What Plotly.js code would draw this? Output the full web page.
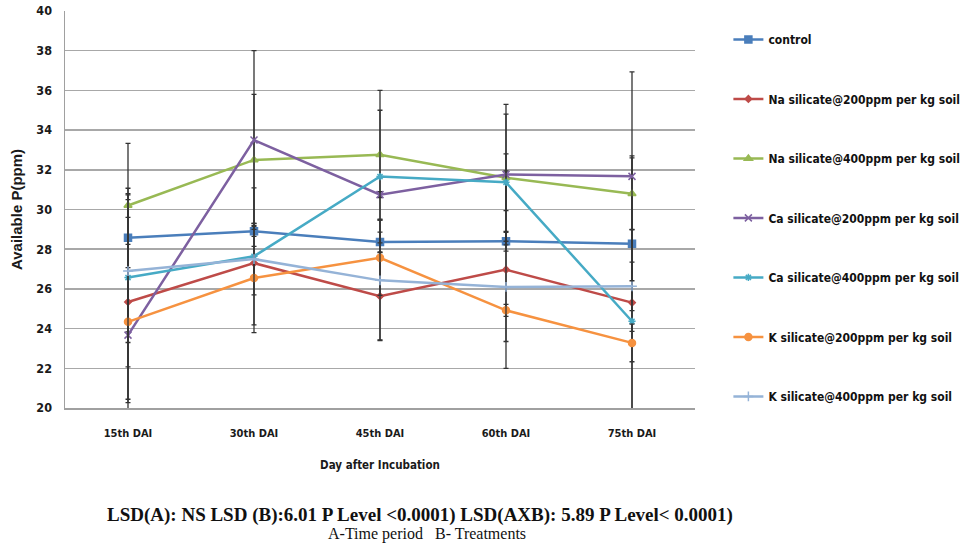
<!DOCTYPE html>
<html><head><meta charset="utf-8">
<script src="https://cdn.plot.ly/plotly-3.0.1.min.js"></script>
<style>html,body{margin:0;padding:0;background:#fff;}#chart{width:969px;height:545px;}</style>
</head><body><div id="chart"></div>
<script>
const categories = ['15th DAI','30th DAI','45th DAI','60th DAI','75th DAI'];
const seriesNames = ['control','Na silicate@200ppm per kg soil','Na silicate@400ppm per kg soil','Ca silicate@200ppm per kg soil','Ca silicate@400ppm per kg soil','K silicate@200ppm per kg soil','K silicate@400ppm per kg soil'];
const control     = [28.58, 28.90, 28.36, 28.40, 28.28];
const controlErr  = [4.75, 0.25, 0.50, 0.50, 4.42];
const naSil200    = [25.34, 27.30, 25.63, 26.97, 25.31];
const naSil200Err = [5.40, 0.84, 2.20, 4.97, 5.40];
const naSil400    = [30.20, 32.50, 32.76, 31.60, 30.79];
const naSil400Err = [0.60, 3.30, 3.24, 3.20, 1.81];
const caSil200    = [23.67, 33.50, 30.75, 31.76, 31.67];
const caSil200Err = [3.40, 4.50, 0.15, 3.54, 5.26];
const caSil400    = [26.57, 27.64, 31.66, 31.37, 24.37];
const caSil400Err = [4.50, 3.45, 3.34, 1.43, 4.63];
const kSil200     = [24.34, 26.55, 27.57, 24.92, 23.28];
const kSil200Err  = [3.90, 2.75, 1.90, 0.30, 0.95];
const kSil400     = [26.90, 27.50, 26.43, 26.10, 26.13];
const kSil400Err  = [3.60, 1.80, 3.03, 2.75, 1.22];

const values = [control, naSil200, naSil400, caSil200, caSil400, kSil200, kSil400];
const errors = [controlErr, naSil200Err, naSil400Err, caSil200Err, caSil400Err, kSil200Err, kSil400Err];
const colors = ['#4a7ebb','#be4b48','#98b954','#7d60a0','#46aac5','#f69240','#95b3d7'];
const symbols = ['square','diamond','triangle-up','x-thin-open','asterisk-open','circle','cross-thin-open'];
const sizes = [7,5,7,7,6,7,7];

const fontNarrow = "'Liberation Sans Narrow', 'Arial Narrow', 'DejaVu Sans Condensed', Arial, sans-serif";

const traces = values.map((v, i) => ({
  type: 'scatter', mode: 'lines+markers',
  x: categories, y: v, name: seriesNames[i], legendgroup: 'g' + i,
  line: {color: colors[i], width: 2.5},
  marker: {color: colors[i], symbol: symbols[i], size: sizes[i], line: {color: colors[i], width: 1.5}},
  error_y: {type: 'data', array: errors[i], visible: true, color: '#333333', thickness: 1.3, width: 2.5}
}));

const layout = {
  width: 969, height: 545,
  margin: {l: 65, r: 274, t: 11, b: 137, autoexpand: false},
  paper_bgcolor: '#ffffff', plot_bgcolor: '#ffffff',
  showlegend: true,
  legend: {x: 1.053, xanchor: 'left', y: 0.965, yanchor: 'top', tracegroupgap: 40.5,
    font: {family: fontNarrow, size: 12, color: '#111', weight: 'bold'}, itemwidth: 30, bgcolor: 'rgba(0,0,0,0)'},
  xaxis: {type: 'category', range: [-0.5, 4.5], showgrid: false, showline: true, linecolor: '#a0a0a0', linewidth: 1.5,
    ticks: '', ticklabelstandoff: 14, zeroline: false,
    tickfont: {family: fontNarrow, size: 11, color: '#1a1a1a', weight: 'bold'},
    title: {text: 'Day after Incubation', standoff: 22, font: {family: fontNarrow, size: 11.5, color: '#1a1a1a', weight: 'bold'}}},
  yaxis: {range: [20, 40], dtick: 2, showgrid: true, gridcolor: '#a8a8a8', gridwidth: 1.5, showline: true, linecolor: '#a0a0a0', linewidth: 1.5,
    ticks: '', ticklabelstandoff: 9, zeroline: false, mirror: false,
    tickfont: {family: fontNarrow, size: 12.5, color: '#1a1a1a', weight: 'bold'},
    title: {text: 'Available P(ppm)', standoff: 10, font: {family: "'Liberation Sans', Arial, sans-serif", size: 15, color: '#1a1a1a', weight: 'bold'}}},
  annotations: [
    {xref: 'paper', yref: 'paper', x: 0.5635, y: -0.2695, xanchor: 'center', yanchor: 'middle', showarrow: false,
     text: 'LSD(A): NS LSD (B):6.01 P Level &lt;0.0001) LSD(AXB): 5.89 P Level&lt; 0.0001)',
     font: {family: "'Liberation Serif', 'Times New Roman', serif", size: 19, color: '#111', weight: 'bold'}},
    {xref: 'paper', yref: 'paper', x: 0.575, y: -0.318, xanchor: 'center', yanchor: 'middle', showarrow: false,
     text: 'A-Time period&nbsp;&nbsp;&nbsp;B- Treatments',
     font: {family: "'Liberation Serif', 'Times New Roman', serif", size: 16, color: '#111'}}
  ]
};

Plotly.newPlot('chart', traces, layout, {displayModeBar: false, staticPlot: true});
</script>
</body></html>
